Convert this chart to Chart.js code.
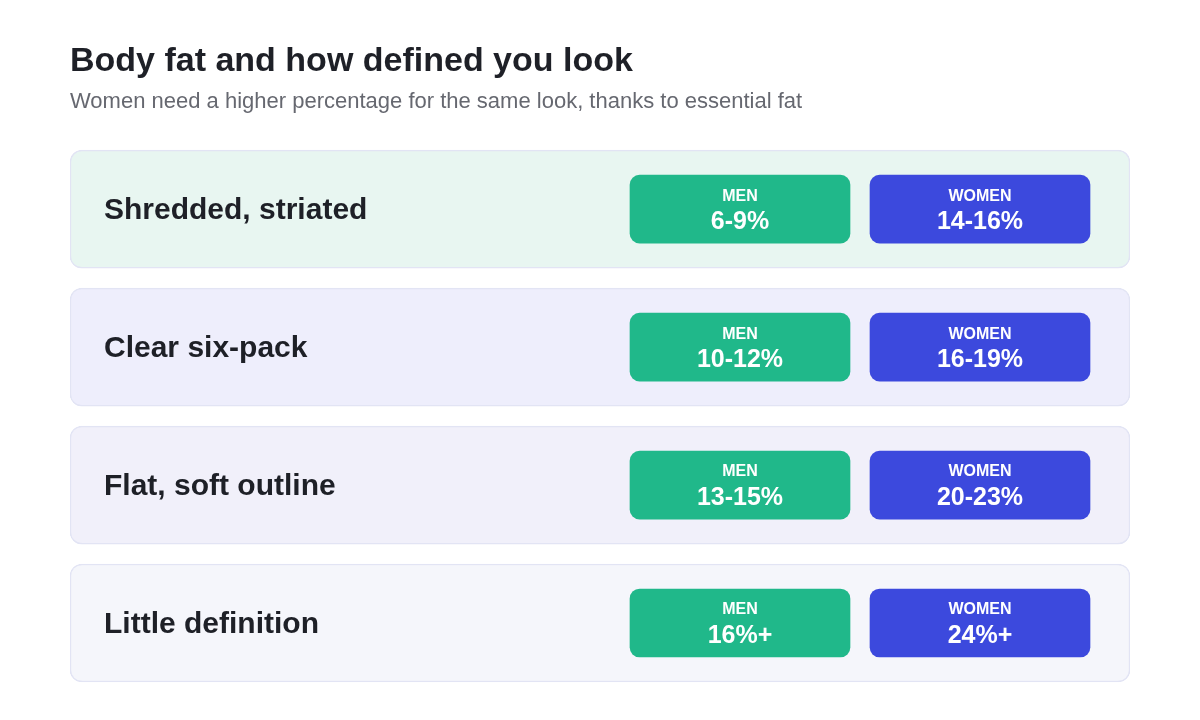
<!DOCTYPE html>
<html>
<head>
<meta charset="utf-8">
<script src="https://cdn.jsdelivr.net/npm/chart.js@4"></script>
<style>
    html, body { margin: 0; padding: 0; background: #ffffff; }
    #wrap { width: 1200px; height: 720px; }
</style>
</head>
<body>
<div id="wrap"><canvas id="chart"></canvas></div>
<script>
const looks = ["Shredded, striated", "Clear six-pack", "Flat, soft outline", "Little definition"];
const menRanges = ["6-9%", "10-12%", "13-15%", "16%+"];
const womenRanges = ["14-16%", "16-19%", "20-23%", "24%+"];
const groupNames = ["MEN", "WOMEN"];

const cardFills = ["#e8f6f1", "#eeeefc", "#f1f0fa", "#f5f6fb"];
const cardBorder = "#e2e4f4";
const menColor = "#20b88a";
const womenColor = "#3c49dd";
const FONT = "'Liberation Sans', Arial, Helvetica, sans-serif";

// horizontal slots across the card width (x scale runs 0..1060)
const CARD_SLOT = [0, 1060];
const MEN_SLOT = [560, 780];
const WOMEN_SLOT = [800, 1020];

const slot = (s) => looks.map(() => s);

// draws the row names and the text inside each badge
const textPlugin = {
    id: "rowText",
    afterDatasetsDraw(chart) {
        const ctx = chart.ctx;
        const cards = chart.getDatasetMeta(0).data;
        const men = chart.getDatasetMeta(1).data;
        const women = chart.getDatasetMeta(2).data;

        ctx.save();
        ctx.textBaseline = "middle";

        cards.forEach((bar, i) => {
            ctx.fillStyle = "#1e2027";
            ctx.font = "bold 30px " + FONT;
            ctx.textAlign = "left";
            ctx.fillText(looks[i], bar.base + 34, bar.y + 2);
        });

        [[men, menRanges, groupNames[0]], [women, womenRanges, groupNames[1]]].forEach(([bars, values, name]) => {
            bars.forEach((bar, i) => {
                const cx = (bar.x + bar.base) / 2;
                ctx.fillStyle = "#ffffff";
                ctx.textAlign = "center";
                ctx.font = "bold 16px " + FONT;
                ctx.fillText(name, cx, bar.y - 13);
                ctx.font = "bold 25px " + FONT;
                ctx.fillText(values[i], cx, bar.y + 13);
            });
        });
        ctx.restore();
    }
};

const chartInstance = new Chart(document.getElementById("chart"), {
    type: "bar",
    data: {
        labels: looks,
        datasets: [
            {
                data: slot(CARD_SLOT),
                backgroundColor: cardFills,
                borderColor: cardBorder,
                borderWidth: 1.5,
                borderRadius: 12,
                borderSkipped: false,
                barThickness: 118,
                grouped: false,
                order: 3,
            },
            {
                data: slot(MEN_SLOT),
                backgroundColor: menColor,
                borderRadius: 10,
                borderSkipped: false,
                barThickness: 68,
                grouped: false,
                order: 2,
            },
            {
                data: slot(WOMEN_SLOT),
                backgroundColor: womenColor,
                borderRadius: 10,
                borderSkipped: false,
                barThickness: 68,
                grouped: false,
                order: 1,
            },
        ],
    },
    options: {
        indexAxis: "y",
        responsive: true,
        maintainAspectRatio: false,
        animation: false,
        layout: {
            padding: { left: 70, right: 70, top: 0, bottom: 28 }
        },
        scales: {
            x: { display: false, min: 0, max: 1060 },
            y: { display: false }
        },
        plugins: {
            legend: { display: false },
            tooltip: { enabled: false },
            title: {
                display: true,
                text: "Body fat and how defined you look",
                align: "start",
                color: "#1e2027",
                font: { family: FONT, size: 34, weight: "bold", lineHeight: 1.2 },
                padding: { top: 41, bottom: 0 }
            },
            subtitle: {
                display: true,
                text: "Women need a higher percentage for the same look, thanks to essential fat",
                align: "start",
                color: "#666870",
                font: { family: FONT, size: 22, lineHeight: 1.2 },
                padding: { top: 7, bottom: 25 }
            }
        }
    },
    plugins: [textPlugin]
});
</script>
</body>
</html>
